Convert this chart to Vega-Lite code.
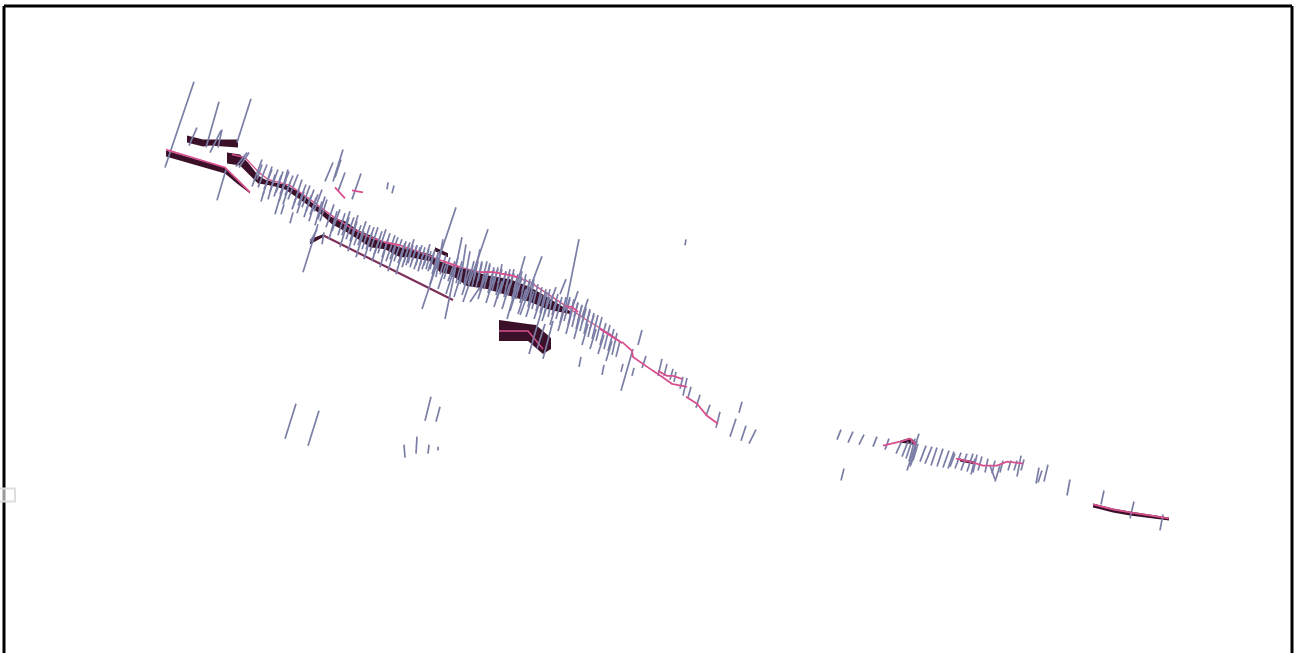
{"$schema":"https://vega.github.io/schema/vega-lite/v6.json","width":1296,"height":655,"autosize":{"type":"fit","contains":"padding"},"padding":0,"background":"white","config":{"view":{"stroke":null}},
"datasets":{
"ticks":[
{"a":165,"b":168,"c":194,"d":82},{"a":189,"b":146,"c":197,"d":128},{"a":206,"b":148,"c":219,"d":102},{"a":210,"b":153,"c":221,"d":131},{"a":218,"b":148,"c":222,"d":130},{"a":217,"b":201,"c":226,"d":170},{"a":237,"b":143,"c":251,"d":99},{"a":236,"b":167,"c":247,"d":153},{"a":239,"b":168,"c":249,"d":153},{"a":252,"b":187,"c":262,"d":160},{"a":257,"b":180,"c":262,"d":165},{"a":261,"b":202,"c":264,"d":192},{"a":275,"b":215,"c":288,"d":170},{"a":281,"b":215,"c":284,"d":205},{"a":290,"b":224,"c":293,"d":213},{"a":325,"b":182,"c":333,"d":163},{"a":333,"b":182,"c":343,"d":150},{"a":335,"b":178,"c":341,"d":160},{"a":338,"b":192,"c":345,"d":173},{"a":352,"b":200,"c":361,"d":174},{"a":387,"b":190,"c":388,"d":183},{"a":392,"b":194,"c":394,"d":186},{"a":303,"b":273,"c":318,"d":225},{"a":310,"b":243,"c":317,"d":230},{"a":322,"b":245,"c":324,"d":233},{"a":318,"b":220,"c":325,"d":197},{"a":445,"b":320,"c":462,"d":238},{"a":422,"b":310,"c":456,"d":208},{"a":463,"b":303,"c":488,"d":230},{"a":470,"b":303,"c":480,"d":288},{"a":497,"b":300,"c":500,"d":289},{"a":520,"b":316,"c":542,"d":257},{"a":507,"b":320,"c":525,"d":257},{"a":529,"b":355,"c":547,"d":293},{"a":543,"b":360,"c":553,"d":322},{"a":537,"b":350,"c":545,"d":325},{"a":565,"b":310,"c":579,"d":240},{"a":579,"b":368,"c":581,"d":358},{"a":602,"b":376,"c":604,"d":366},{"a":621,"b":373,"c":623,"d":365},{"a":621,"b":392,"c":633,"d":350},{"a":632,"b":377,"c":634,"d":369},{"a":638,"b":346,"c":642,"d":331},{"a":642,"b":369,"c":646,"d":357},{"a":658,"b":377,"c":662,"d":360},{"a":664,"b":377,"c":667,"d":365},{"a":670,"b":381,"c":673,"d":370},{"a":674,"b":383,"c":676,"d":373},{"a":680,"b":390,"c":683,"d":378},{"a":683,"b":397,"c":687,"d":379},{"a":688,"b":399,"c":691,"d":388},{"a":696,"b":409,"c":700,"d":396},{"a":706,"b":417,"c":710,"d":406},{"a":716,"b":429,"c":720,"d":413},{"a":739,"b":414,"c":742,"d":403},{"a":730,"b":438,"c":736,"d":420},{"a":741,"b":442,"c":746,"d":427},{"a":749,"b":445,"c":756,"d":431},{"a":685,"b":246,"c":686,"d":240},
{"a":258,"b":188,"c":267,"d":165},{"a":264,"b":190,"c":272,"d":170},{"a":270,"b":192,"c":278,"d":170},{"a":276,"b":193,"c":283,"d":172},{"a":280,"b":195,"c":289,"d":172},{"a":285,"b":196,"c":293,"d":176},{"a":288,"b":200,"c":298,"d":175},{"a":294,"b":204,"c":302,"d":180},{"a":298,"b":206,"c":306,"d":185},{"a":302,"b":208,"c":310,"d":186},{"a":306,"b":212,"c":314,"d":190},{"a":310,"b":215,"c":318,"d":195},{"a":314,"b":212,"c":322,"d":190},{"a":320,"b":222,"c":327,"d":200},{"a":326,"b":228,"c":334,"d":205},{"a":332,"b":232,"c":340,"d":210},{"a":338,"b":236,"c":345,"d":214},{"a":342,"b":236,"c":350,"d":212},{"a":346,"b":240,"c":354,"d":218},{"a":350,"b":242,"c":358,"d":216},{"a":354,"b":246,"c":361,"d":226},{"a":358,"b":246,"c":366,"d":222},{"a":362,"b":250,"c":370,"d":226},{"a":366,"b":250,"c":374,"d":228},{"a":370,"b":252,"c":378,"d":228},{"a":374,"b":255,"c":382,"d":232},{"a":378,"b":254,"c":386,"d":230},{"a":382,"b":258,"c":390,"d":234},{"a":386,"b":262,"c":395,"d":236},{"a":390,"b":260,"c":398,"d":238},{"a":394,"b":262,"c":402,"d":240},{"a":398,"b":264,"c":405,"d":244},{"a":402,"b":268,"c":410,"d":243},{"a":406,"b":266,"c":414,"d":240},{"a":410,"b":268,"c":417,"d":246},{"a":414,"b":270,"c":422,"d":246},{"a":418,"b":272,"c":424,"d":252},{"a":422,"b":270,"c":430,"d":245},{"a":428,"b":272,"c":435,"d":250},{"a":432,"b":275,"c":439,"d":252},{"a":436,"b":278,"c":443,"d":240},{"a":400,"b":262,"c":406,"d":242},{"a":404,"b":263,"c":409,"d":245},{"a":408,"b":264,"c":413,"d":246},{"a":412,"b":262,"c":417,"d":246},{"a":416,"b":266,"c":420,"d":248},{"a":420,"b":266,"c":425,"d":248},{"a":424,"b":266,"c":429,"d":250},{"a":426,"b":270,"c":431,"d":252},{"a":430,"b":270,"c":434,"d":254},{"a":434,"b":270,"c":438,"d":254},
{"a":440,"b":275,"c":446,"d":256},{"a":444,"b":280,"c":450,"d":258},{"a":448,"b":282,"c":455,"d":262},{"a":452,"b":278,"c":458,"d":258},{"a":456,"b":284,"c":462,"d":262},{"a":460,"b":285,"c":466,"d":245},{"a":464,"b":286,"c":470,"d":252},{"a":468,"b":285,"c":474,"d":262},{"a":472,"b":288,"c":480,"d":250},{"a":476,"b":288,"c":482,"d":262},{"a":480,"b":292,"c":487,"d":262},{"a":484,"b":290,"c":490,"d":264},{"a":488,"b":294,"c":494,"d":270},{"a":492,"b":292,"c":498,"d":268},{"a":496,"b":296,"c":502,"d":265},{"a":500,"b":295,"c":506,"d":272},{"a":504,"b":298,"c":510,"d":270},{"a":508,"b":296,"c":514,"d":270},{"a":512,"b":300,"c":518,"d":275},{"a":516,"b":300,"c":522,"d":272},{"a":520,"b":304,"c":526,"d":275},{"a":524,"b":302,"c":530,"d":280},{"a":528,"b":308,"c":534,"d":280},{"a":532,"b":310,"c":538,"d":285},{"a":536,"b":312,"c":542,"d":288},{"a":540,"b":314,"c":546,"d":290},{"a":544,"b":316,"c":550,"d":290},{"a":548,"b":318,"c":553,"d":295},{"a":552,"b":316,"c":558,"d":295},{"a":556,"b":320,"c":562,"d":298},{"a":560,"b":324,"c":566,"d":298},{"a":564,"b":322,"c":570,"d":300},{"a":568,"b":326,"c":574,"d":300},{"a":572,"b":328,"c":578,"d":303},{"a":576,"b":330,"c":582,"d":306},{"a":580,"b":332,"c":586,"d":308},{"a":584,"b":335,"c":590,"d":310},{"a":588,"b":338,"c":594,"d":314},{"a":592,"b":340,"c":598,"d":316},{"a":596,"b":342,"c":602,"d":318},{"a":600,"b":346,"c":606,"d":324},{"a":604,"b":350,"c":610,"d":326},{"a":608,"b":352,"c":614,"d":330},{"a":612,"b":356,"c":617,"d":334},{"a":616,"b":358,"c":620,"d":342},{"a":474,"b":280,"c":478,"d":262},{"a":478,"b":282,"c":482,"d":264},{"a":486,"b":282,"c":490,"d":266},{"a":490,"b":284,"c":494,"d":268},{"a":494,"b":284,"c":498,"d":270},{"a":498,"b":284,"c":502,"d":270},{"a":502,"b":288,"c":506,"d":272},{"a":506,"b":288,"c":510,"d":274},{"a":510,"b":288,"c":514,"d":274},{"a":514,"b":290,"c":518,"d":276},{"a":518,"b":292,"c":522,"d":278},{"a":522,"b":292,"c":526,"d":280},{"a":526,"b":296,"c":530,"d":282},{"a":530,"b":298,"c":534,"d":284},{"a":566,"b":312,"c":570,"d":298},{"a":570,"b":316,"c":574,"d":302},{"a":574,"b":318,"c":578,"d":304},{"a":578,"b":322,"c":582,"d":306},{"a":582,"b":324,"c":586,"d":310},{"a":586,"b":326,"c":590,"d":312},{"a":590,"b":330,"c":594,"d":316},
{"a":263,"b":195,"c":272,"d":167},{"a":268,"b":200,"c":275,"d":175},{"a":274,"b":197,"c":281,"d":176},{"a":279,"b":202,"c":286,"d":180},{"a":283,"b":205,"c":290,"d":183},{"a":292,"b":210,"c":299,"d":190},{"a":297,"b":214,"c":304,"d":192},{"a":304,"b":218,"c":311,"d":196},{"a":309,"b":222,"c":316,"d":198},{"a":315,"b":226,"c":322,"d":202},{"a":329,"b":240,"c":337,"d":212},{"a":340,"b":248,"c":349,"d":218},{"a":348,"b":252,"c":357,"d":222},{"a":356,"b":258,"c":364,"d":232},{"a":364,"b":260,"c":372,"d":234},{"a":372,"b":262,"c":380,"d":238},{"a":380,"b":268,"c":388,"d":240},{"a":388,"b":272,"c":396,"d":245},{"a":396,"b":275,"c":404,"d":247},{"a":430,"b":285,"c":438,"d":258},{"a":438,"b":290,"c":446,"d":265},{"a":446,"b":295,"c":454,"d":270},{"a":454,"b":298,"c":462,"d":272},{"a":462,"b":296,"c":470,"d":270},{"a":478,"b":300,"c":487,"d":272},{"a":486,"b":304,"c":494,"d":278},{"a":494,"b":308,"c":502,"d":282},{"a":502,"b":310,"c":510,"d":284},{"a":510,"b":312,"c":518,"d":286},{"a":518,"b":315,"c":526,"d":290},{"a":526,"b":318,"c":534,"d":292},{"a":534,"b":320,"c":542,"d":296},{"a":542,"b":322,"c":550,"d":298},{"a":550,"b":326,"c":557,"d":302},{"a":558,"b":332,"c":565,"d":308},{"a":566,"b":335,"c":572,"d":312},{"a":574,"b":340,"c":580,"d":318},{"a":582,"b":346,"c":588,"d":325},{"a":590,"b":350,"c":596,"d":330},{"a":598,"b":355,"c":604,"d":336},{"a":606,"b":362,"c":612,"d":342},{"a":560,"b":295,"c":566,"d":280},{"a":550,"b":305,"c":556,"d":288},{"a":572,"b":310,"c":578,"d":292},{"a":582,"b":318,"c":588,"d":300},
{"a":837,"b":441,"c":841,"d":431},{"a":848,"b":444,"c":853,"d":433},{"a":859,"b":446,"c":864,"d":436},{"a":873,"b":448,"c":877,"d":438},{"a":885,"b":451,"c":889,"d":440},{"a":896,"b":455,"c":902,"d":442},{"a":902,"b":458,"c":908,"d":443},{"a":906,"b":460,"c":912,"d":442},{"a":909,"b":463,"c":915,"d":440},{"a":911,"b":466,"c":917,"d":442},{"a":907,"b":472,"c":919,"d":435},{"a":913,"b":462,"c":918,"d":445},{"a":910,"b":468,"c":916,"d":450},{"a":920,"b":463,"c":926,"d":447},{"a":925,"b":465,"c":932,"d":448},{"a":931,"b":467,"c":937,"d":449},{"a":937,"b":468,"c":943,"d":450},{"a":943,"b":469,"c":949,"d":452},{"a":948,"b":470,"c":954,"d":453},{"a":950,"b":468,"c":955,"d":455},{"a":955,"b":470,"c":961,"d":454},{"a":961,"b":472,"c":967,"d":455},{"a":967,"b":473,"c":973,"d":455},{"a":973,"b":474,"c":977,"d":456},{"a":971,"b":476,"c":975,"d":460},{"a":978,"b":472,"c":982,"d":458},{"a":985,"b":474,"c":988,"d":460},{"a":992,"b":475,"c":995,"d":462},{"a":990,"b":467,"c":995,"d":481},{"a":995,"b":483,"c":1000,"d":467},{"a":1000,"b":474,"c":1003,"d":462},{"a":1008,"b":472,"c":1011,"d":462},{"a":1014,"b":472,"c":1017,"d":462},{"a":1017,"b":478,"c":1021,"d":457},{"a":1021,"b":472,"c":1024,"d":461},{"a":841,"b":482,"c":844,"d":470},{"a":1036,"b":485,"c":1039,"d":469},{"a":1038,"b":484,"c":1042,"d":472},{"a":1044,"b":483,"c":1048,"d":466},{"a":1067,"b":497,"c":1070,"d":481},{"a":1101,"b":506,"c":1104,"d":492},{"a":1130,"b":520,"c":1134,"d":503},{"a":1160,"b":532,"c":1163,"d":516},
{"a":285,"b":440,"c":296,"d":405},{"a":308,"b":447,"c":319,"d":412},{"a":425,"b":422,"c":431,"d":398},{"a":436,"b":423,"c":440,"d":408},{"a":405,"b":459,"c":404,"d":446},{"a":416,"b":455,"c":417,"d":438},{"a":428,"b":455,"c":429,"d":446},{"a":438,"b":452,"c":438,"d":448}
],
"ribbons":[
{"s":"a","x":187,"t":136,"b":143},{"s":"a","x":203,"t":140,"b":147},{"s":"a","x":210,"t":140,"b":146},{"s":"a","x":238,"t":140,"b":148},
{"s":"b","x":166,"t":151,"b":157},{"s":"b","x":225,"t":168,"b":174},{"s":"b","x":237,"t":179,"b":184},{"s":"b","x":250,"t":192,"b":194},
{"s":"c","x":227,"t":153,"b":164},{"s":"c","x":240,"t":155,"b":166},{"s":"c","x":248,"t":163,"b":174},{"s":"c","x":258,"t":176,"b":184},{"s":"c","x":265,"t":180,"b":185},{"s":"c","x":275,"t":183,"b":187},{"s":"c","x":285,"t":185,"b":190},{"s":"c","x":300,"t":193,"b":200},{"s":"c","x":312,"t":203,"b":209},{"s":"c","x":322,"t":210,"b":216},{"s":"c","x":332,"t":218,"b":225},{"s":"c","x":345,"t":222,"b":232},{"s":"c","x":358,"t":231,"b":240},{"s":"c","x":370,"t":236,"b":248},{"s":"c","x":385,"t":243,"b":250},{"s":"c","x":400,"t":248,"b":258},{"s":"c","x":410,"t":250,"b":258},{"s":"c","x":430,"t":255,"b":262},{"s":"c","x":440,"t":262,"b":273},{"s":"c","x":450,"t":266,"b":275},{"s":"c","x":467,"t":270,"b":287},{"s":"c","x":487,"t":276,"b":290},{"s":"c","x":510,"t":280,"b":297},{"s":"c","x":530,"t":288,"b":303},{"s":"c","x":547,"t":298,"b":310},{"s":"c","x":555,"t":303,"b":312},{"s":"c","x":570,"t":312,"b":315},
{"s":"d","x":310,"t":240,"b":245},{"s":"d","x":323,"t":235,"b":238},
{"s":"e","x":499,"t":321,"b":342},{"s":"e","x":528,"t":325,"b":342},{"s":"e","x":536,"t":326,"b":349},{"s":"e","x":543,"t":332,"b":355},{"s":"e","x":551,"t":339,"b":350},
{"s":"f","x":435,"t":248,"b":252},{"s":"f","x":448,"t":254,"b":258},
{"s":"g","x":900,"t":442,"b":444},{"s":"g","x":910,"t":439,"b":445},{"s":"g","x":916,"t":443,"b":447},
{"s":"h","x":960,"t":460,"b":463},{"s":"h","x":975,"t":463,"b":466},
{"s":"i","x":1093,"t":505,"b":509},{"s":"i","x":1113,"t":510,"b":514},{"s":"i","x":1130,"t":513,"b":517},{"s":"i","x":1169,"t":519,"b":522}
],
"pinkUnder":[
{"s":"r","x":232,"y":155},{"s":"r","x":245,"y":158},{"s":"r","x":258,"y":172},{"s":"r","x":268,"y":180},{"s":"r","x":290,"y":186},{"s":"r","x":310,"y":200},{"s":"r","x":330,"y":215},{"s":"r","x":350,"y":228},{"s":"r","x":370,"y":238},{"s":"r","x":385,"y":243},{"s":"r","x":400,"y":246},{"s":"r","x":420,"y":253},{"s":"r","x":443,"y":262},{"s":"r","x":460,"y":268},{"s":"r","x":480,"y":273},{"s":"r","x":493,"y":273},{"s":"r","x":510,"y":276},{"s":"r","x":530,"y":283},{"s":"r","x":560,"y":303},{"s":"r","x":585,"y":320},{"s":"r","x":610,"y":335},{"s":"r","x":622,"y":344},
{"s":"p","x":499,"y":332},{"s":"p","x":528,"y":332},{"s":"p","x":543,"y":350}
],
"pink":[
{"s":"l","x":166,"y":150},{"s":"l","x":225,"y":168},{"s":"l","x":250,"y":193},
{"s":"u","x":622,"y":343},{"s":"u","x":632,"y":352},{"s":"u","x":633,"y":358},{"s":"u","x":653,"y":372},{"s":"u","x":662,"y":378},{"s":"u","x":672,"y":385},{"s":"u","x":687,"y":388},
{"s":"v","x":658,"y":372},{"s":"v","x":667,"y":377},{"s":"v","x":673,"y":377},{"s":"v","x":682,"y":380},
{"s":"w","x":686,"y":398},{"s":"w","x":697,"y":405},{"s":"w","x":707,"y":417},{"s":"w","x":718,"y":425},
{"s":"x","x":335,"y":188},{"s":"x","x":345,"y":199},
{"s":"y","x":352,"y":191},{"s":"y","x":363,"y":193},
{"s":"q","x":565,"y":307},{"s":"q","x":572,"y":308},{"s":"q","x":578,"y":313},
{"s":"k","x":385,"y":243},{"s":"k","x":400,"y":246},
{"s":"m","x":443,"y":262},{"s":"m","x":460,"y":268},
{"s":"n","x":480,"y":273},{"s":"n","x":493,"y":273},{"s":"n","x":510,"y":276},{"s":"n","x":518,"y":278},
{"s":"o","x":600,"y":330},{"s":"o","x":622,"y":344},
{"s":"g2","x":883,"y":447},{"s":"g2","x":900,"y":443},{"s":"g2","x":910,"y":440},{"s":"g2","x":916,"y":446},
{"s":"h2","x":956,"y":460},{"s":"h2","x":970,"y":463},{"s":"h2","x":983,"y":467},{"s":"h2","x":997,"y":467},{"s":"h2","x":1007,"y":463},{"s":"h2","x":1023,"y":465},
{"s":"i2","x":1093,"y":506},{"s":"i2","x":1113,"y":511},{"s":"i2","x":1130,"y":514},{"s":"i2","x":1169,"y":520}
],
"stripe":[{"s":"z","x":323,"y":236},{"s":"z","x":453,"y":301}],
"frame":[{"a":4,"b":655,"c":4,"d":6},{"a":4,"b":6,"c":1292,"d":6},{"a":1292,"b":6,"c":1292,"d":655}],
"box":[{"a":-2,"b":490,"c":15,"d":503}]
},
"layer":[
{"data":{"name":"ribbons"},"mark":{"type":"area","color":"#3b1029","opacity":1},
 "encoding":{"x":{"field":"x","type":"quantitative","scale":{"domain":[0,1296],"nice":false,"zero":false},"axis":null},"y":{"field":"t","type":"quantitative","scale":{"domain":[655,0],"nice":false,"zero":false},"axis":null},"y2":{"field":"b"},"detail":{"field":"s"}}},
{"data":{"name":"pinkUnder"},"mark":{"type":"line","color":"#d9508f","strokeWidth":1.4},
 "encoding":{"x":{"field":"x","type":"quantitative","scale":{"domain":[0,1296],"nice":false,"zero":false},"axis":null},"y":{"field":"y","type":"quantitative","scale":{"domain":[655,0],"nice":false,"zero":false},"axis":null},"detail":{"field":"s"}}},
{"data":{"name":"stripe"},"mark":{"type":"line","color":"#7e2f5a","strokeWidth":2.2},
 "encoding":{"x":{"field":"x","type":"quantitative","scale":{"domain":[0,1296],"nice":false,"zero":false},"axis":null},"y":{"field":"y","type":"quantitative","scale":{"domain":[655,0],"nice":false,"zero":false},"axis":null},"detail":{"field":"s"}}},
{"data":{"name":"ticks"},"mark":{"type":"rule","color":"#7b7ea6","strokeWidth":1.7},
 "encoding":{"x":{"field":"a","type":"quantitative","scale":{"domain":[0,1296],"nice":false,"zero":false},"axis":null},"y":{"field":"b","type":"quantitative","scale":{"domain":[655,0],"nice":false,"zero":false},"axis":null},"x2":{"field":"c"},"y2":{"field":"d"}}},
{"data":{"name":"pink"},"mark":{"type":"line","color":"#d9508f","strokeWidth":1.8},
 "encoding":{"x":{"field":"x","type":"quantitative","scale":{"domain":[0,1296],"nice":false,"zero":false},"axis":null},"y":{"field":"y","type":"quantitative","scale":{"domain":[655,0],"nice":false,"zero":false},"axis":null},"detail":{"field":"s"}}},
{"data":{"name":"frame"},"mark":{"type":"rule","color":"black","strokeWidth":3},
 "encoding":{"x":{"field":"a","type":"quantitative","scale":{"domain":[0,1296],"nice":false,"zero":false},"axis":null},"y":{"field":"b","type":"quantitative","scale":{"domain":[655,0],"nice":false,"zero":false},"axis":null},"x2":{"field":"c"},"y2":{"field":"d"}}},
{"data":{"name":"box"},"mark":{"type":"rect","fill":"white","fillOpacity":0.6,"stroke":"#dddddd","strokeWidth":2,"clip":true},
 "encoding":{"x":{"field":"a","type":"quantitative","scale":{"domain":[0,1296],"nice":false,"zero":false},"axis":null},"y":{"field":"b","type":"quantitative","scale":{"domain":[655,0],"nice":false,"zero":false},"axis":null},"x2":{"field":"c"},"y2":{"field":"d"}}}
]}
